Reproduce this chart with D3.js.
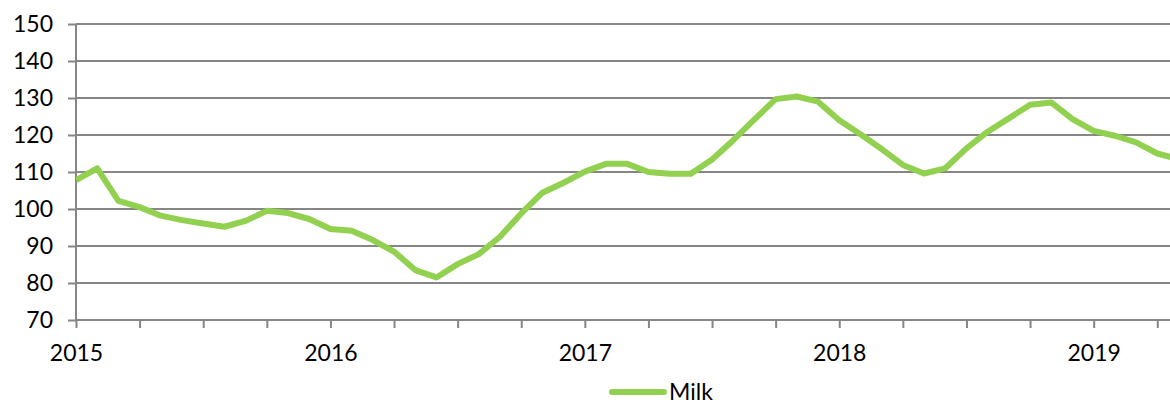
<html>

<head>
  <title>Milk index</title>
  <script src="https://cdn.jsdelivr.net/npm/d3@7"></script>
  <style>
    body { margin: 0; background: #fff; }
    text { font-family: Lato, "Open Sans", sans-serif; fill: #000; }
  </style>
</head>

<body>
  <script type="text/javascript">
    const w = 1170;
    const h = 406;

    // Monthly values, Jan 2015 - May 2019
    const months = d3.range(53); // month index from Jan 2015
    const milk = [
      107.8, 111.0, 102.2, 100.5, 98.2, 97.0, 96.1, 95.2, 96.8, 99.5, 98.9, 97.3,
      94.6, 94.1, 91.6, 88.5, 83.5, 81.5, 85.1, 87.8, 92.5, 98.8, 104.4, 107.1,
      110.1, 112.2, 112.2, 110.0, 109.5, 109.5, 113.4, 118.6, 124.2, 129.7, 130.4, 129.0,
      124.0, 120.2, 116.2, 111.9, 109.6, 111.0, 116.4, 120.9, 124.5, 128.2, 128.8, 124.3,
      121.1, 119.8, 118.0, 115.0, 113.5
    ];
    const yearLabels = ["2015", "2016", "2017", "2018", "2019"];
    const yTicks = [70, 80, 90, 100, 110, 120, 130, 140, 150];
    const seriesName = "Milk";

    const padLeft = 76, padRight = 1170, padTop = 24, padBottom = 320;
    const gridColor = "#868686";
    const lineColor = "#92D050";

    const x = d3.scaleLinear()
      .domain([0, 51.6])
      .range([padLeft, padRight]);

    const y = d3.scaleLinear()
      .domain([70, 150])
      .range([padBottom, padTop]);

    const svg = d3.select("body")
      .append("svg")
      .attr("width", w)
      .attr("height", h);

    svg.append("defs").append("clipPath")
      .attr("id", "plot")
      .append("rect")
      .attr("x", padLeft).attr("y", 0)
      .attr("width", padRight - padLeft).attr("height", h);

    // Gridlines
    svg.append("g")
      .selectAll("line")
      .data(yTicks.slice(1))
      .enter()
      .append("line")
      .attr("x1", padLeft).attr("x2", padRight)
      .attr("y1", d => y(d)).attr("y2", d => y(d))
      .attr("stroke", gridColor)
      .attr("stroke-width", 2);

    // Y axis
    const yAxis = d3.axisLeft(y)
      .tickValues(yTicks)
      .tickSize(8)
      .tickPadding(15);
    const gy = svg.append("g")
      .attr("transform", "translate(" + padLeft + ",0)")
      .call(yAxis);
    gy.selectAll("path, line").attr("stroke", gridColor).attr("stroke-width", 2);
    gy.select(".domain").attr("d", "M0," + padBottom + "V" + padTop);
    gy.selectAll("text").style("font-size", "23px").attr("font-family", null);

    // X axis, quarterly ticks, year labels
    const xAxis = d3.axisBottom(x)
      .tickValues(d3.range(0, 52, 3))
      .tickSize(8)
      .tickPadding(17)
      .tickFormat(d => d % 12 === 0 ? yearLabels[d / 12] : "");
    const gx = svg.append("g")
      .attr("transform", "translate(0," + padBottom + ")")
      .call(xAxis);
    gx.selectAll("path, line").attr("stroke", gridColor).attr("stroke-width", 2);
    gx.select(".domain").attr("d", "M" + padLeft + ",0H" + padRight);
    gx.selectAll("text").style("font-size", "23px").attr("font-family", null);

    // Line
    const line = d3.line()
      .x((d, i) => x(months[i]))
      .y(d => y(d));

    svg.append("path")
      .datum(milk)
      .attr("clip-path", "url(#plot)")
      .attr("d", line)
      .attr("fill", "none")
      .attr("stroke", lineColor)
      .attr("stroke-width", 6)
      .attr("stroke-linejoin", "round");

    // Legend
    const lg = svg.append("g").attr("transform", "translate(612,392)");
    lg.append("line")
      .attr("x1", 0).attr("x2", 52)
      .attr("stroke", lineColor)
      .attr("stroke-width", 6)
      .attr("stroke-linecap", "round");
    lg.append("text")
      .attr("x", 57).attr("y", 8)
      .style("font-size", "23px")
      .text(seriesName);
  </script>
</body>

</html>
